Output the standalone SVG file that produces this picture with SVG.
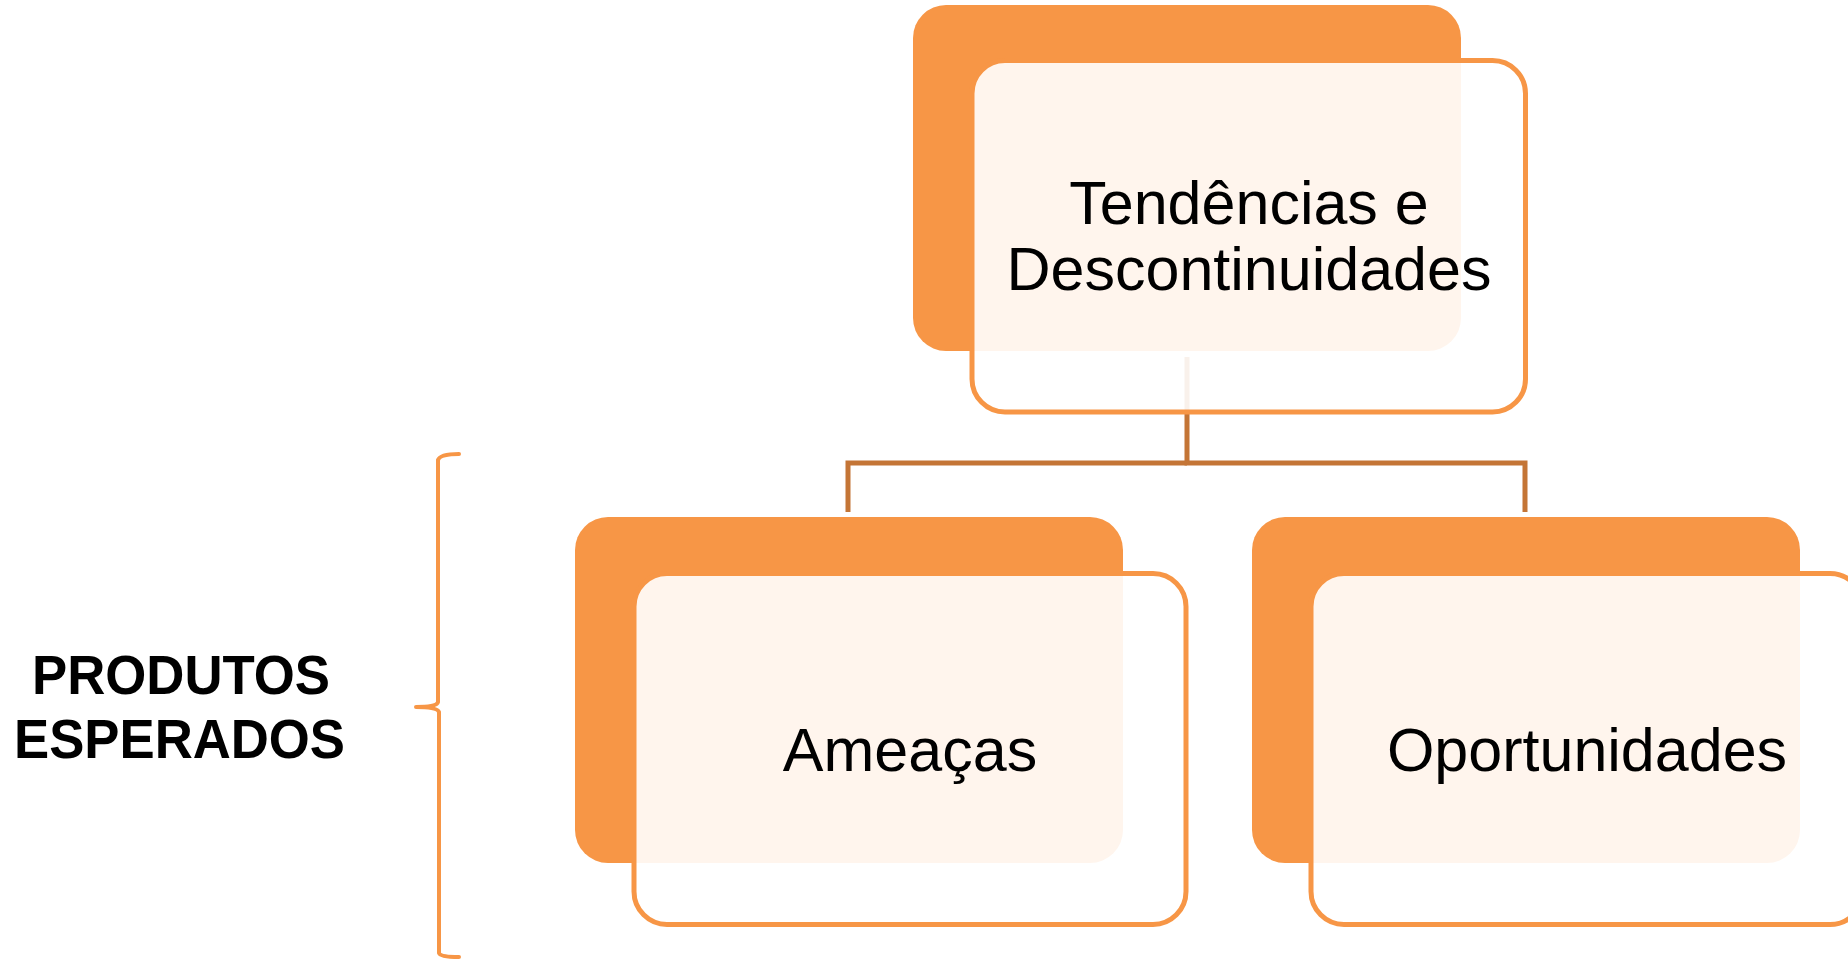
<svg xmlns="http://www.w3.org/2000/svg" width="1848" height="961" viewBox="0 0 1848 961">
<style>
.back{fill:#F79646}
.front{fill:#FFFFFF;fill-opacity:0.9;stroke:#F79646;stroke-width:5}
.conn{fill:none;stroke:#C47536;stroke-width:5}
.lbl{font-family:"Liberation Sans",Arial,sans-serif;font-size:61px;fill:#000;text-anchor:middle}
.side{font-family:"Liberation Sans",Arial,sans-serif;font-size:56px;font-weight:bold;fill:#000}
.brace{fill:none;stroke:#F79646;stroke-width:4;stroke-linecap:round;stroke-linejoin:round}
</style>
<rect width="1848" height="961" fill="#FFFFFF"/>
<g id="connectors">
<path class="conn" d="M1187,357 V463 H1525 V512"/>
<path class="conn" d="M1187,463 H848 V512"/>
</g>
<g id="node-tendencias">
<rect class="back" x="913" y="5" width="548" height="346" rx="33" ry="33"/>
<rect class="front" x="972" y="60.5" width="553.5" height="351.5" rx="33" ry="33"/>
<text class="lbl" x="1249" y="224">Tendências e</text>
<text class="lbl" x="1249" y="290">Descontinuidades</text>
</g>
<g id="node-ameacas">
<rect class="back" x="575" y="517" width="548" height="346" rx="33" ry="33"/>
<rect class="front" x="634" y="573.5" width="552" height="351" rx="33" ry="33"/>
<text class="lbl" x="910" y="771">Ameaças</text>
</g>
<g id="node-oportunidades">
<rect class="back" x="1252" y="517" width="548" height="346" rx="33" ry="33"/>
<rect class="front" x="1311" y="573.5" width="552" height="351" rx="33" ry="33"/>
<text class="lbl" x="1587" y="771">Oportunidades</text>
</g>
<g id="produtos-esperados">
<path class="brace" d="M459,454 Q440,454 438,460 L438,702 Q437,707 416,707 Q437,707 439,712 L439,953 Q440,957 459,957"/>
<text class="side" x="32" y="694" textLength="298" lengthAdjust="spacingAndGlyphs">PRODUTOS</text>
<text class="side" x="14" y="758" textLength="331" lengthAdjust="spacingAndGlyphs">ESPERADOS</text>
</g>
</svg>
